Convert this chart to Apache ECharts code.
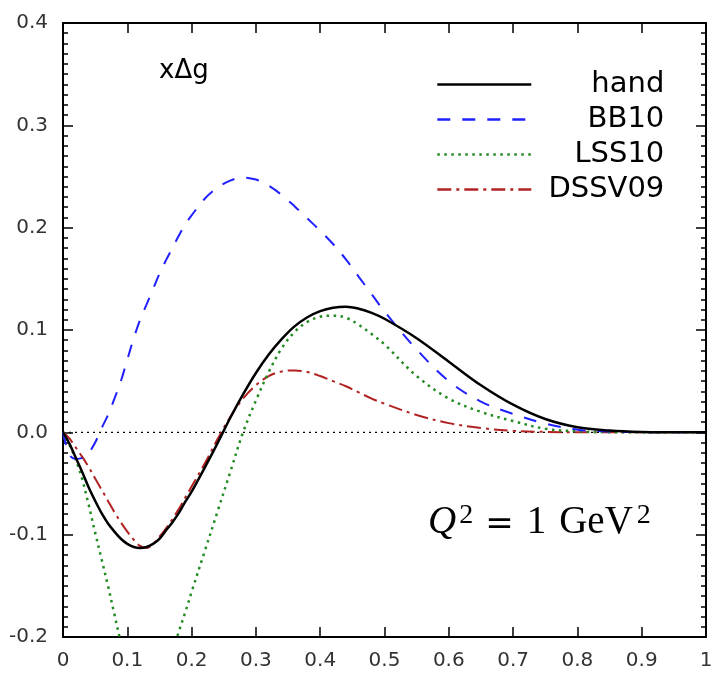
<!DOCTYPE html>
<html>
<head>
<meta charset="utf-8">
<script src="https://cdn.jsdelivr.net/npm/echarts@6/dist/echarts.min.js"></script>
<style>html,body{margin:0;padding:0;background:#fff}#c{width:722px;height:677px}</style>
</head>
<body>
<div id="c"></div>
<script>
// ---- data ----
const xs = [0,0.01,0.02,0.03,0.04,0.05,0.06,0.07,0.08,0.09,0.10,0.11,0.12,0.13,0.14,0.15,0.16,0.17,0.18,0.19,0.20,0.22,0.24,0.26,0.28,0.30,0.32,0.34,0.36,0.38,0.40,0.42,0.44,0.46,0.48,0.50,0.55,0.60,0.65,0.70,0.75,0.80,0.85,0.90,0.95,1.0];
const hand = [0,-0.011,-0.025,-0.039,-0.054,-0.067,-0.079,-0.089,-0.097,-0.104,-0.109,-0.112,-0.113,-0.112,-0.109,-0.104,-0.096,-0.088,-0.079,-0.068,-0.058,-0.035,-0.011,0.014,0.037,0.058,0.076,0.091,0.1035,0.1125,0.1185,0.1218,0.1228,0.1208,0.1168,0.111,0.092,0.069,0.046,0.027,0.013,0.005,0.0018,0.0004,0.0001,0];
const bb10 = [0,-0.022,-0.026,-0.025,-0.020,-0.010,0.004,0.017,0.033,0.050,0.071,0.092,0.110,0.125,0.140,0.155,0.168,0.180,0.192,0.203,0.212,0.228,0.239,0.246,0.249,0.247,0.241,0.232,0.221,0.209,0.197,0.184,0.169,0.152,0.135,0.118,0.081,0.050,0.030,0.018,0.0085,0.0026,0.0008,0.0002,0,0];
const lss10 = [0,-0.012,-0.027,-0.046,-0.071,-0.098,-0.124,-0.150,-0.178,-0.205,-0.226,-0.242,-0.251,-0.254,-0.251,-0.242,-0.230,-0.214,-0.195,-0.176,-0.156,-0.117,-0.078,-0.039,0.000,0.031,0.059,0.082,0.098,0.108,0.113,0.114,0.112,0.105,0.096,0.086,0.055,0.033,0.020,0.011,0.0035,0.001,0.0002,0,0,0];
const dssv09 = [0,-0.006,-0.015,-0.024,-0.034,-0.045,-0.056,-0.067,-0.078,-0.088,-0.097,-0.105,-0.111,-0.113,-0.109,-0.102,-0.094,-0.085,-0.075,-0.064,-0.053,-0.031,-0.007,0.015,0.033,0.046,0.055,0.0595,0.0605,0.059,0.055,0.050,0.045,0.039,0.033,0.028,0.017,0.009,0.0042,0.0015,0.0004,0.0001,0,0,0,0];
const zeroX = [0,1];
const zeroY = [0,0];
const seriesNames = ['hand','BB10','LSS10','DSSV09'];
const xTickLabels = ['0','0.1','0.2','0.3','0.4','0.5','0.6','0.7','0.8','0.9','1'];
const yTickLabels = ['-0.2','-0.1','0.0','0.1','0.2','0.3','0.4'];
const panelLabel = 'xΔg';

const pairs = (x, y) => x.map((v, i) => [v, y[i]]);

const chart = echarts.init(document.getElementById('c'), null, {renderer: 'canvas'});
const F = 'DejaVu Sans';
const axisLineStyle = {color: '#000', width: 2};
const commonX = {
  type: 'value', min: 0, max: 1, interval: 0.1,
  splitLine: {show: false},
  axisLine: {show: true, onZero: false, lineStyle: axisLineStyle},
  axisTick: {show: true, inside: true, length: 10, lineStyle: {color: '#000', width: 1.5}}
};
const commonY = {
  type: 'value', min: -0.2, max: 0.4, interval: 0.1,
  splitLine: {show: false},
  axisLine: {show: true, onZero: false, lineStyle: axisLineStyle},
  axisTick: {show: true, inside: true, length: 10, lineStyle: {color: '#000', width: 1.5}},
  minorTick: {show: true, splitNumber: 10, length: 5, lineStyle: {color: '#000', width: 1.5}}
};
const option = {
  animation: false,
  backgroundColor: '#fff',
  grid: {left: 63, right: 16, top: 23, bottom: 40, containLabel: false},
  xAxis: [
    Object.assign({}, commonX, {position: 'bottom',
      axisLabel: {show: true, margin: 14, fontFamily: F, fontSize: 20, color: '#333',
        formatter: v => xTickLabels[Math.round(v * 10)]}}),
    Object.assign({}, commonX, {position: 'top', axisLabel: {show: false}})
  ],
  yAxis: [
    Object.assign({}, commonY, {position: 'left',
      axisLabel: {show: true, margin: 15, fontFamily: F, fontSize: 20, color: '#333',
        formatter: v => yTickLabels[Math.round((v + 0.2) * 10)]}}),
    Object.assign({}, commonY, {position: 'right', axisLabel: {show: false}})
  ],
  legend: {
    show: true,
    data: seriesNames,
    orient: 'vertical', left: 431, top: 62, padding: 5,
    itemWidth: 94, itemHeight: 14, itemGap: 0,
    itemStyle: {opacity: 0, borderWidth: 0},
    lineStyle: {width: 2.6},
    formatter: n => '{t|' + n + '}',
    textStyle: {fontFamily: F, fontSize: 29, color: '#000', lineHeight: 35,
      rich: {t: {width: 128, align: 'right', fontFamily: F, fontSize: 29, lineHeight: 35, color: '#000'}}}
  },
  graphic: [
    {type: 'text', left: 159, top: 58, style: {text: panelLabel, font: '26px "DejaVu Sans"', fill: '#000'}},
    {type: 'text', left: 428, top: 502, style: {
      text: '{q|Q}{s|2}{e|=}{n|1}{g|GeV}{s2|2}',
      rich: {
        q: {fontFamily: 'Liberation Serif', fontStyle: 'italic', fontSize: 39, fill: '#000', verticalAlign: 'bottom'},
        s: {fontFamily: 'Liberation Serif', fontSize: 28, fill: '#000', verticalAlign: 'bottom', padding: [0, 0, 12, 3]},
        e: {fontFamily: 'DejaVu Serif', fontSize: 34, fill: '#000', verticalAlign: 'bottom', padding: [0, 13, 0, 12]},
        n: {fontFamily: 'Liberation Serif', fontSize: 39, fill: '#000', verticalAlign: 'bottom', padding: [0, 13, 0, 0]},
        g: {fontFamily: 'Liberation Serif', fontSize: 39, fill: '#000', verticalAlign: 'bottom'},
        s2: {fontFamily: 'Liberation Serif', fontSize: 28, fill: '#000', verticalAlign: 'bottom', padding: [0, 0, 12, 4]}
      }
    }}
  ],
  series: [
    {name: 'zero', type: 'line', data: pairs(zeroX, zeroY), symbol: 'none', silent: true,
      lineStyle: {color: '#000', width: 1.3, type: [2, 4]}, z: 1},
    {name: 'DSSV09', type: 'line', data: pairs(xs, dssv09), symbol: 'none', smooth: 0.35,
      lineStyle: {color: '#b22222', width: 2, type: [14, 5, 3, 5]}, itemStyle: {color: '#b22222'}, z: 2},
    {name: 'LSS10', type: 'line', data: pairs(xs, lss10), symbol: 'none', smooth: 0.35,
      lineStyle: {color: '#228b22', width: 2.5, type: [2.5, 4.5]}, itemStyle: {color: '#228b22'}, z: 3},
    {name: 'BB10', type: 'line', data: pairs(xs, bb10), symbol: 'none', smooth: 0.35,
      lineStyle: {color: '#2020ff', width: 2, type: [13, 12]}, itemStyle: {color: '#2020ff'}, z: 4},
    {name: 'hand', type: 'line', data: pairs(xs, hand), symbol: 'none', smooth: 0.35,
      lineStyle: {color: '#000', width: 2.5}, itemStyle: {color: '#000'}, z: 5}
  ]
};
chart.setOption(option);
</script>
</body>
</html>
